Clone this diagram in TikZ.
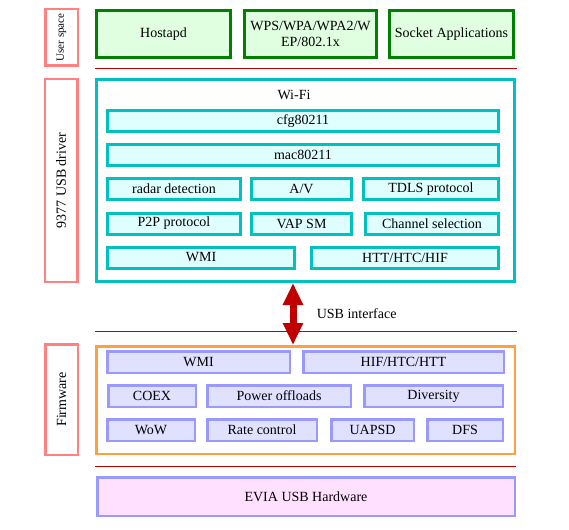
\documentclass[tikz,border=0pt]{standalone}
\usepackage{fontspec}
\setmainfont{Liberation Serif}
\usepackage{tikz}
\usetikzlibrary{positioning, arrows.meta}

\definecolor{appgreen}{HTML}{008000}
\definecolor{appfill}{HTML}{E0FFE0}
\definecolor{drvcyan}{HTML}{00C0C0}
\definecolor{drvfill}{HTML}{DFFFFF}
\definecolor{layerred}{HTML}{FF8080}
\definecolor{fworange}{HTML}{FFA040}
\definecolor{fwblue}{HTML}{9999FF}
\definecolor{fwfill}{HTML}{E0E0FF}
\definecolor{hwfill}{HTML}{FFE0FF}
\definecolor{sepred}{HTML}{C00000}

\tikzset{
    appbox/.style={draw=appgreen, fill=appfill, line width=3pt, inner sep=1pt, align=center},
    drvbox/.style={draw=drvcyan, fill=drvfill, line width=3pt, inner sep=1pt, minimum height=21pt},
    fwbox/.style={draw=fwblue, fill=fwfill, line width=2.5pt, inner sep=1pt, minimum height=21.5pt},
    layerbox/.style={draw=layerred, line width=2.5pt, rotate=90, inner sep=1pt, minimum height=32.5pt},
    sepline/.style={draw=sepred, line width=1pt},
    usbarrow/.style={draw=sepred, line width=7pt,
        {Triangle[length=22pt,width=19pt]}-{Triangle[length=22pt,width=19pt]}}
}

\begin{document}
\begin{tikzpicture}[x=1pt, y=-1pt, font=\fontsize{14}{16}\selectfont]
    \useasboundingbox (0,0) rectangle (569,529);

    % User space
    \node[layerbox, minimum width=56.5pt, font=\fontsize{11}{13}\selectfont] (userlbl) at (61.5,37.5) {User space};
    \node[appbox, minimum width=134pt, minimum height=47pt] (hostapd) at (163.5,34) {Hostapd};
    \node[appbox, minimum width=132pt, minimum height=47pt] (wps) at (310.5,34) {WPS/WPA/WPA2/W\\EP/802.1x};
    \node[appbox, minimum width=124pt, minimum height=47pt] (socket) at (451.5,34) {Socket Applications};
    \draw[sepline] (95,69) -- (517,69);

    % Host driver
    \node[layerbox, minimum width=202.5pt] (drvlbl) at (61,180.5) {9377 USB driver};
    \node[draw=drvcyan, line width=3pt, minimum width=418pt, minimum height=202pt] (wifi) at (305.5,180.5) {};
    \node (wifilbl) at (294,95) {Wi-Fi};
    \node[drvbox, minimum width=391pt] (cfg) at (303,121) {cfg80211};
    \node[drvbox, minimum width=391pt] (mac) at (303,155) {mac80211};
    \node[drvbox, minimum width=133pt] (radar) at (174,189) {radar detection};
    \node[drvbox, minimum width=100pt] (av) at (301.5,189) {A/V};
    \node[drvbox, minimum width=135pt] (tdls) at (431,189) {TDLS protocol};
    \node[drvbox, minimum width=133pt] (p2p) at (174,223.5) {P2P protocol};
    \node[drvbox, minimum width=100pt] (vap) at (301.5,223.5) {VAP SM};
    \node[drvbox, minimum width=133pt] (chan) at (432,223.5) {Channel selection};
    \node[drvbox, minimum width=187pt] (hwmi) at (201,257.5) {WMI};
    \node[drvbox, minimum width=187pt] (htt) at (405,257.5) {HTT/HTC/HIF};

    % Firmware
    \draw[sepline] (95,331) -- (517,331);
    \node[layerbox, minimum width=110.5pt] (fwlbl) at (61.5,399.5) {Firmware};
    \node[draw=fworange, line width=2.5pt, minimum width=418.5pt, minimum height=107.5pt] (fw) at (305.5,400) {};
    \node[fwbox, minimum width=182.5pt] (fwmi) at (198.5,362) {WMI};
    \node[fwbox, minimum width=200.5pt] (hif) at (403.5,362) {HIF/HTC/HTT};
    \node[fwbox, minimum width=87.5pt] (coex) at (152,396) {COEX};
    \node[fwbox, minimum width=143.5pt] (power) at (279,396) {Power offloads};
    \node[fwbox, minimum width=138.5pt] (div) at (433.5,396) {Diversity};
    \node[fwbox, minimum width=87.5pt] (wow) at (151,430) {WoW};
    \node[fwbox, minimum width=109.5pt] (rate) at (262,430) {Rate control};
    \node[fwbox, minimum width=82.5pt] (uapsd) at (372.5,430) {UAPSD};
    \node[fwbox, minimum width=75.5pt] (dfs) at (465,430) {DFS};

    % USB link between driver and firmware
    \draw[usbarrow] ([xshift=-12.5pt]wifi.south) -- ([xshift=-12.5pt]fw.north)
        node[midway, right=17pt, text=black] (usblbl) {USB interface};

    % Hardware
    \draw[sepline] (95,466) -- (516,466);
    \node[draw=fwblue, fill=hwfill, line width=2.5pt, minimum width=417.5pt, minimum height=38.5pt] (hw) at (306,496.5) {EVIA USB Hardware};
\end{tikzpicture}
\end{document}
